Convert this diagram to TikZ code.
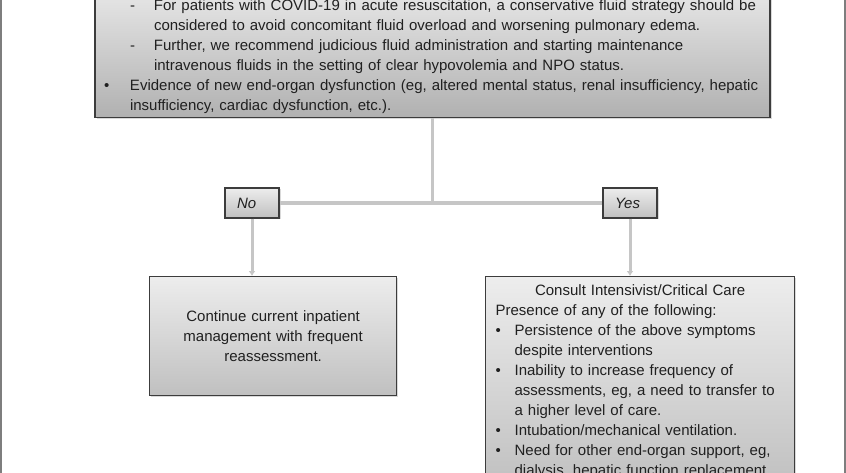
\documentclass[tikz,border=0pt]{standalone}
\usepackage{fontspec}
\setmainfont{Liberation Sans}
\usetikzlibrary{arrows.meta,shadows}
\definecolor{boxline}{HTML}{3C3C3C}
\definecolor{boxtop}{HTML}{EDEDED}
\definecolor{boxbot}{HTML}{C0C0C0}
\definecolor{linkgray}{HTML}{C6C6C6}
\definecolor{ink}{HTML}{202020}
\definecolor{pagegray}{HTML}{7E7E7E}

\begin{document}
\begin{tikzpicture}[x=1pt,y=-1pt,
    box/.style={draw=boxline, line width=1.2pt, top color=boxtop, bottom color=boxbot,
        drop shadow={shadow xshift=1.5pt, shadow yshift=-1.5pt, opacity=0.3},
        text=ink, font=\fontsize{15}{20}\selectfont},
    answer/.style={box, text width=30pt, inner xsep=12pt, minimum height=30pt, align=left,
        font=\fontsize{15}{20}\selectfont\itshape},
    link/.style={draw=linkgray, line width=3pt}]
    \clip (0,0) rectangle (846,473);
    \draw[pagegray, line width=1.3pt] (1,-10) rectangle (845,490);
    \node[box, anchor=south, text width=657pt, inner xsep=9pt, inner ysep=3.5pt, align=left,
        top color=boxtop!80!boxbot, bottom color=boxbot!92!black] (check) at (432.5,118) {%
        \hspace*{26pt}\makebox[24pt][l]{-}For patients with COVID-19 in acute resuscitation, a conservative fluid strategy should be\\
        \hspace*{50pt}considered to avoid concomitant fluid overload and worsening pulmonary edema.\\
        \hspace*{26pt}\makebox[24pt][l]{-}Further, we recommend judicious fluid administration and starting maintenance\\
        \hspace*{50pt}intravenous fluids in the setting of clear hypovolemia and NPO status.\\
        \makebox[26pt][l]{\textbullet}Evidence of new end-organ dysfunction (eg, altered mental status, renal insufficiency, hepatic\\
        \hspace*{26pt}insufficiency, cardiac dysfunction, etc.).};
    \node[answer] (no) at (252,203) {No};
    \node[answer] (yes) at (630,203) {Yes};
    \node[box, anchor=north west, minimum width=247pt, minimum height=119pt, text width=225pt, align=center]
        (stay) at (149,276) {Continue current inpatient\\management with frequent\\reassessment.};
    \node[box, anchor=north west, text width=289pt, inner xsep=10pt, inner ysep=8pt, align=left] (icu) at (485,276) {%
        \makebox[\hsize][c]{Consult Intensivist/Critical Care}\\
        Presence of any of the following:\\
        \makebox[19pt][l]{\textbullet}Persistence of the above symptoms\\
        \hspace*{19pt}despite interventions\\
        \makebox[19pt][l]{\textbullet}Inability to increase frequency of\\
        \hspace*{19pt}assessments, eg, a need to transfer to\\
        \hspace*{19pt}a higher level of care.\\
        \makebox[19pt][l]{\textbullet}Intubation/mechanical ventilation.\\
        \makebox[19pt][l]{\textbullet}Need for other end-organ support, eg,\\
        \hspace*{19pt}dialysis, hepatic function replacement};
    \draw[link] (check.south) -- (check.south |- no.east);
    \draw[link, line width=4pt] (no.east) -- (yes.west);
    \draw[link, -{Latex[length=5pt,width=7pt]}] (no.south) -- (no.south |- stay.north);
    \draw[link, -{Latex[length=5pt,width=7pt]}] (yes.south) -- (yes.south |- icu.north);
\end{tikzpicture}
\end{document}
